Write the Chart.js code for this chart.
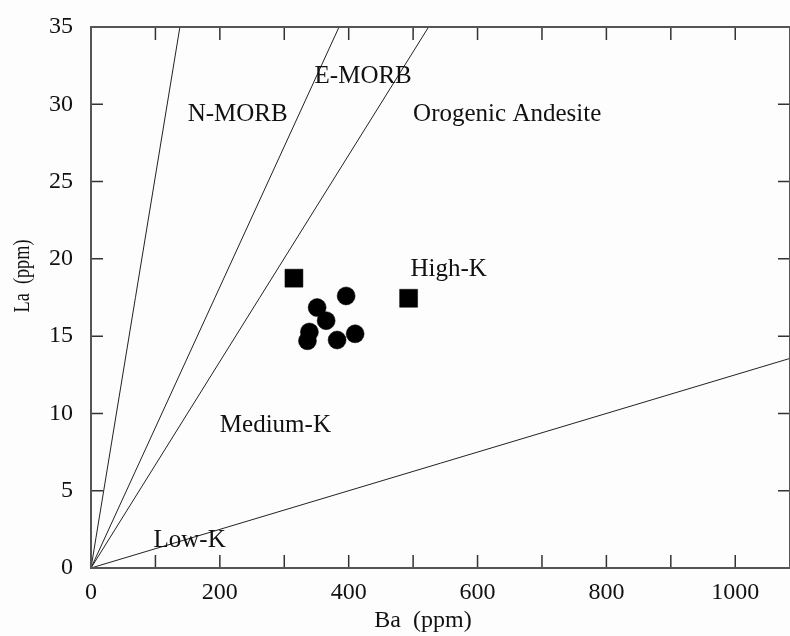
<!DOCTYPE html>
<html>
<head>
<meta charset="utf-8">
<script src="https://cdn.jsdelivr.net/npm/chart.js@4"></script>
<style>
  html, body { margin: 0; padding: 0; background: #fdfdfd; }
  canvas { display: block; }
</style>
</head>
<body>
<canvas id="chart" width="790" height="636"></canvas>
<script>
// Samples plotted as squares
const squareBa = [315, 493];
const squareLa = [18.75, 17.45];

// Samples plotted as filled circles
const circleBa = [396, 351, 365, 339, 336, 382, 410];
const circleLa = [17.6, 16.85, 16.0, 15.27, 14.7, 14.75, 15.15];

// Discrimination lines from the origin; each ends where it leaves the frame
const lineNames = ['N-MORB', 'E-MORB', 'Orogenic Andesite', 'Low-K'];
const lineEndBa = [138, 385, 524, 1085];
const lineEndLa = [35, 35, 35, 13.56];

// Field labels, anchored at the left end of their baseline
const fieldNames = ['N-MORB', 'E-MORB', 'Orogenic Andesite', 'High-K', 'Medium-K', 'Low-K'];
const fieldBa = [150, 347, 500, 496, 200, 97];
const fieldLa = [28.9, 31.4, 28.9, 18.9, 8.8, 1.36];

// Axis ranges and labelled tick values
const baRange = [0, 1085];
const laRange = [0, 35];
const baLabelled = [0, 200, 400, 600, 800, 1000];
const laLabelled = [0, 5, 10, 15, 20, 25, 30, 35];

const SERIF = '"Liberation Serif", "Times New Roman", serif';
const INK = '#111';

const toPoints = (xs, ys) => xs.map((v, i) => ({ x: v, y: ys[i] }));

const lineSets = lineNames.map((name, i) => ({
  label: name,
  data: [{ x: 0, y: 0 }, { x: lineEndBa[i], y: lineEndLa[i] }],
  showLine: true,
  borderColor: '#222',
  borderWidth: 1,
  pointRadius: 0,
  fill: false
}));

const framePlugin = {
  id: 'framePlugin',
  beforeDraw(chart) {
    const { ctx, width, height } = chart;
    ctx.save();
    ctx.fillStyle = '#fdfdfd';
    ctx.fillRect(0, 0, width, height);
    ctx.restore();
  },
  afterDatasetsDraw(chart) {
    const { ctx, chartArea: a, scales: { x, y } } = chart;
    ctx.save();

    // inward tick marks on all four sides
    ctx.strokeStyle = '#333';
    ctx.lineWidth = 1.5;
    ctx.beginPath();
    x.ticks.forEach(t => {
      const px = x.getPixelForValue(t.value);
      ctx.moveTo(px, a.bottom); ctx.lineTo(px, a.bottom - 13);
      ctx.moveTo(px, a.top); ctx.lineTo(px, a.top + 13);
    });
    y.ticks.forEach(t => {
      const py = y.getPixelForValue(t.value);
      ctx.moveTo(a.left, py); ctx.lineTo(a.left + 12, py);
      ctx.moveTo(a.right, py); ctx.lineTo(a.right - 12, py);
    });
    ctx.stroke();

    // plot frame
    ctx.strokeStyle = '#555';
    ctx.lineWidth = 2;
    ctx.strokeRect(a.left, a.top, a.right - a.left, a.bottom - a.top);

    // field labels
    ctx.fillStyle = INK;
    ctx.font = '25px ' + SERIF;
    ctx.textAlign = 'left';
    ctx.textBaseline = 'alphabetic';
    fieldNames.forEach((name, i) => {
      ctx.fillText(name, x.getPixelForValue(fieldBa[i]), y.getPixelForValue(fieldLa[i]));
    });

    // axis titles
    ctx.font = '24px ' + SERIF;
    ctx.textAlign = 'center';
    ctx.fillText('Ba  (ppm)', 423, 627);

    ctx.translate(29, 276);
    ctx.rotate(-Math.PI / 2);
    ctx.scale(0.76, 1);
    ctx.font = '24px ' + SERIF;
    ctx.fillText('La  (ppm)', 0, 0);

    ctx.restore();
  }
};

new Chart(document.getElementById('chart'), {
  type: 'scatter',
  data: {
    datasets: [
      ...lineSets,
      {
        label: 'Circles',
        data: toPoints(circleBa, circleLa),
        pointStyle: 'circle',
        pointRadius: 9,
        pointBackgroundColor: '#000',
        pointBorderColor: '#000',
        pointBorderWidth: 0.5
      },
      {
        label: 'Squares',
        data: toPoints(squareBa, squareLa),
        pointStyle: 'rect',
        pointRadius: 12.7,
        pointBackgroundColor: '#000',
        pointBorderColor: '#000',
        pointBorderWidth: 0.5
      }
    ]
  },
  options: {
    responsive: false,
    animation: false,
    events: [],
    layout: { autoPadding: false, padding: { top: 27, left: 0, right: 0, bottom: 0 } },
    plugins: {
      legend: { display: false },
      tooltip: { enabled: false },
      title: { display: false }
    },
    scales: {
      x: {
        type: 'linear',
        min: baRange[0],
        max: baRange[1],
        grid: { display: false, drawTicks: false },
        border: { display: false },
        ticks: {
          stepSize: 100,
          includeBounds: false,
          autoSkip: false,
          maxRotation: 0,
          padding: 10,
          color: INK,
          font: { family: SERIF, size: 24 },
          callback: v => baLabelled.includes(v) ? String(v) : ''
        },
        afterFit: s => { s.height = 68; s.paddingLeft = 0; s.paddingRight = 0; }
      },
      y: {
        type: 'linear',
        min: laRange[0],
        max: laRange[1],
        grid: { display: false, drawTicks: false },
        border: { display: false },
        ticks: {
          stepSize: 5,
          autoSkip: false,
          padding: 18,
          color: INK,
          font: { family: SERIF, size: 24 },
          callback: v => laLabelled.includes(v) ? String(v) : ''
        },
        afterFit: s => { s.width = 91; s.paddingTop = 0; s.paddingBottom = 0; }
      }
    }
  },
  plugins: [framePlugin]
});
</script>
</body>
</html>
